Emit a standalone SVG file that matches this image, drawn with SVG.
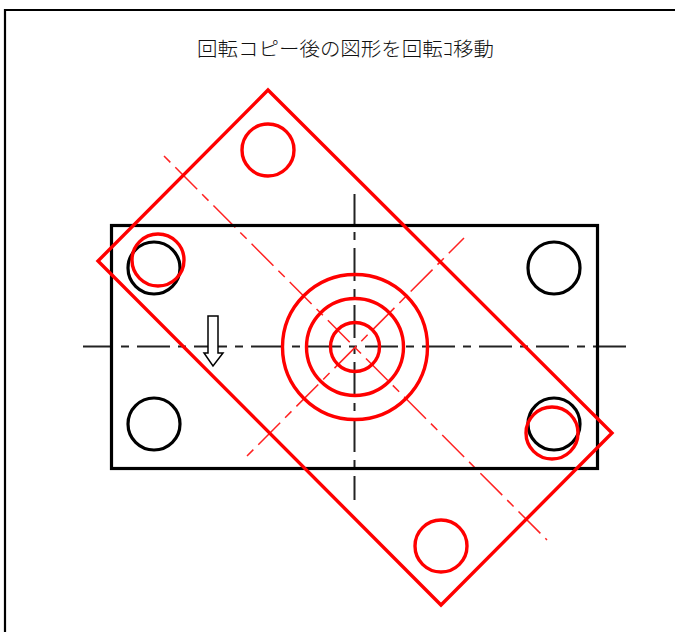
<svg xmlns="http://www.w3.org/2000/svg" width="675" height="632" viewBox="0 0 675 632">
<style>
text{font-family:"Noto Sans CJK JP","Noto Sans CJK SC",sans-serif;font-size:19.8px;font-weight:300;fill:#111}
.k{fill:none;stroke:#000;stroke-width:3.2}
.r{fill:none;stroke:#f00;stroke-width:3.4}
.kc{fill:none;stroke:#222;stroke-width:2;stroke-dasharray:33 8 8 8;stroke-dashoffset:3}
.rc{fill:none;stroke:#f22;stroke-width:1.5;stroke-dasharray:31 7 9 7;stroke-dashoffset:38}
</style>
<rect width="675" height="632" fill="#fff"/>
<g id="frame"><path d="M5 632V10H675" fill="none" stroke="#000" stroke-width="2.200"/></g>
<g id="title"><text x="197" y="56" textLength="297" lengthAdjust="spacingAndGlyphs">回転コピー後の図形を回転ｺ移動</text></g>
<g id="connectors">
<line class="kc" x1="83" y1="346.500" x2="627" y2="346.500"/>
<line class="kc" x1="354.500" y1="194" x2="354.500" y2="500"/>
<line class="rc" x1="164" y1="156" x2="547" y2="540"/>
<line class="rc" x1="247" y1="456" x2="464" y2="238"/>
</g>
<g id="original"><rect class="k" x="111.500" y="225.500" width="486" height="243"/>
<circle class="k" cx="154" cy="268" r="26"/><circle class="k" cx="554" cy="268" r="26"/><circle class="k" cx="154" cy="424" r="26"/><circle class="k" cx="554" cy="424" r="26"/></g>
<g id="rotated"><path class="r" d="M268 90L612 433L441 605L98 261Z"/>
<circle class="r" cx="268" cy="150" r="26"/><circle class="r" cx="441" cy="546" r="26"/><circle class="r" cx="158" cy="260" r="26"/><circle class="r" cx="552" cy="433" r="26"/></g>
<g id="rings"><circle class="r" cx="355" cy="347" r="72.500"/><circle class="r" cx="355" cy="347" r="48.500"/><circle class="r" cx="355" cy="347" r="24.500"/></g>
<g id="arrow"><path d="M208 316H218V353H223L213 366L204 353H208Z" fill="#fff" stroke="#000" stroke-width="1.500"/></g>
</svg>
